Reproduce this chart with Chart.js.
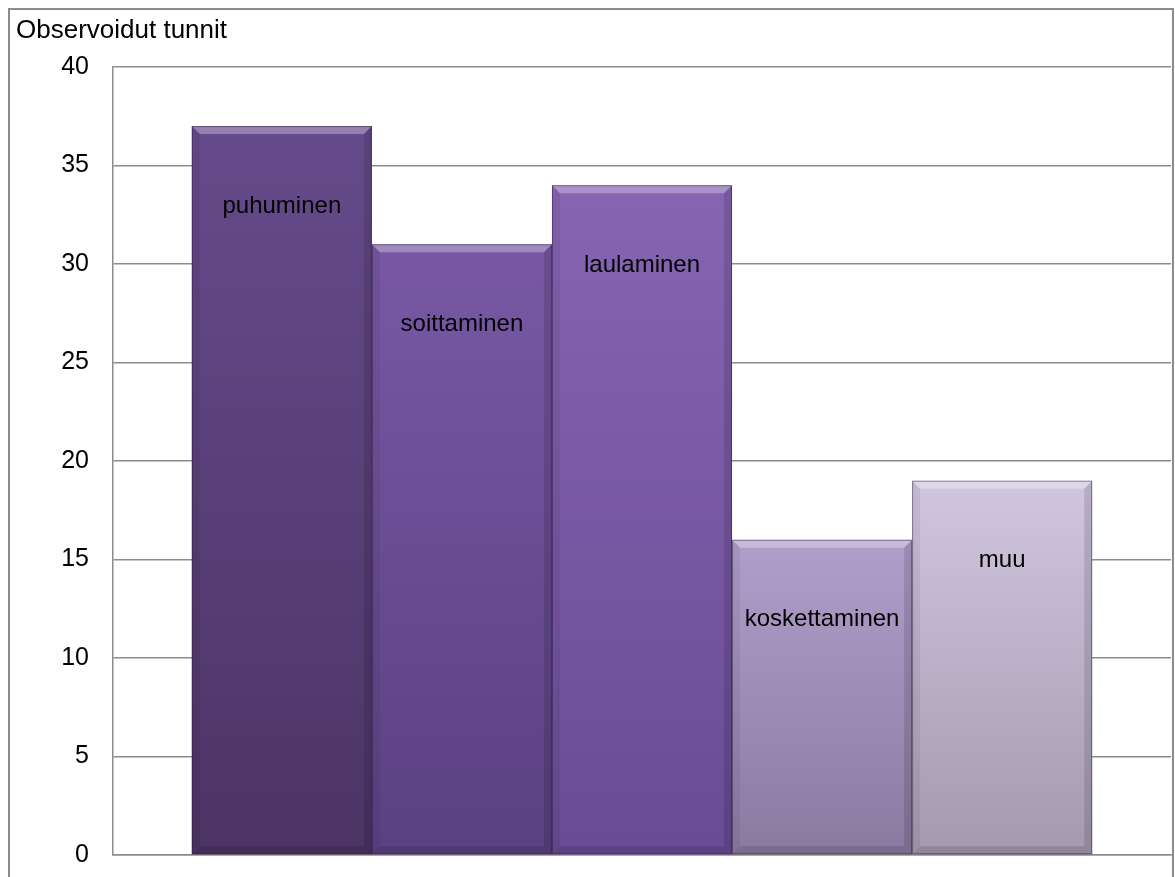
<!DOCTYPE html>
<html>
<head>
<meta charset="utf-8">
<script src="https://cdn.jsdelivr.net/npm/chart.js@4.4.1/dist/chart.umd.min.js"></script>
<style>
  body { margin: 0; background: #fff; }
  #box {
    position: absolute; left: 8px; top: 8px;
    width: 1162px; height: 880px;
    border: 2px solid #8c8c8c;
    overflow: hidden;
  }
  canvas { display: block; }
</style>
</head>
<body>
<div id="box"><canvas id="chart" width="1162" height="884"></canvas></div>
<script>
// Data
const axisTitle = 'Observoidut tunnit';
const categories = ['puhuminen', 'soittaminen', 'laulaminen', 'koskettaminen', 'muu'];
const hours = [37, 31, 34, 16, 19];
const yMin = 0, yMax = 40, yStep = 5;

// Värit (ylä / ala) gradientille
const topColors = ['#664b8c', '#7858a4', '#8665b3', '#b19ecb', '#d0c6df'];
const bottomColors = ['#4c3465', '#5a4181', '#694b94', '#8a7aa0', '#a39aae'];

const FONT = '"Liberation Sans", Arial, sans-serif';

// Gradientti yhdelle palkille
function barGradient(ctx, i) {
    const chart = ctx.chart;
    const y = chart.scales.y;
    if (!chart.chartArea || !y) return topColors[i];
    const top = y.getPixelForValue(hours[i]);
    const bottom = y.getPixelForValue(0);
    const g = chart.ctx.createLinearGradient(0, top, 0, bottom);
    g.addColorStop(0, topColors[i]);
    g.addColorStop(1, bottomColors[i]);
    return g;
}

// Viisto reuna + nimet palkkien sisään
const bevelPlugin = {
    id: 'bevel',
    afterDatasetsDraw(chart) {
        const ctx = chart.ctx;
        const b = 8;
        chart.data.datasets.forEach((ds, i) => {
            const bar = chart.getDatasetMeta(i).data[0];
            if (!bar) return;
            const l = bar.x - bar.width / 2, r = bar.x + bar.width / 2;
            const t = bar.y, bt = bar.base;
            ctx.save();
            // yläreuna
            ctx.fillStyle = 'rgba(255,255,255,0.3)';
            ctx.beginPath();
            ctx.moveTo(l, t); ctx.lineTo(r, t); ctx.lineTo(r - b, t + b); ctx.lineTo(l + b, t + b);
            ctx.closePath(); ctx.fill();
            // sivut
            ctx.fillStyle = 'rgba(0,0,0,0.06)';
            ctx.beginPath();
            ctx.moveTo(l, t); ctx.lineTo(l + b, t + b); ctx.lineTo(l + b, bt - b); ctx.lineTo(l, bt);
            ctx.closePath(); ctx.fill();
            ctx.fillStyle = 'rgba(0,0,0,0.12)';
            ctx.beginPath();
            ctx.moveTo(r, t); ctx.lineTo(r - b, t + b); ctx.lineTo(r - b, bt - b); ctx.lineTo(r, bt);
            ctx.closePath(); ctx.fill();
            // alareuna
            ctx.fillStyle = 'rgba(0,0,0,0.12)';
            ctx.beginPath();
            ctx.moveTo(l, bt); ctx.lineTo(l + b, bt - b); ctx.lineTo(r - b, bt - b); ctx.lineTo(r, bt);
            ctx.closePath(); ctx.fill();
            // ohut reunaviiva
            ctx.strokeStyle = 'rgba(40,20,60,0.45)';
            ctx.lineWidth = 1;
            ctx.strokeRect(l + 0.5, t + 0.5, bar.width - 1, bt - t - 1);
            // nimi
            ctx.fillStyle = '#000';
            ctx.font = '24px ' + FONT;
            ctx.textAlign = 'center';
            ctx.textBaseline = 'middle';
            ctx.fillText(ds.label, bar.x, t + 80);
            ctx.restore();
        });
        // akselin otsikko
        ctx.save();
        ctx.fillStyle = '#000';
        ctx.font = '26px ' + FONT;
        ctx.textAlign = 'left';
        ctx.textBaseline = 'middle';
        ctx.fillText(axisTitle, 6, 21);
        ctx.restore();
    }
};

new Chart(document.getElementById('chart'), {
    type: 'bar',
    data: {
        labels: [''],
        datasets: categories.map((name, i) => ({
            label: name,
            data: [hours[i]],
            backgroundColor: ctx => barGradient(ctx, i),
            borderWidth: 0,
            barPercentage: 1,
            categoryPercentage: 0.851
        }))
    },
    options: {
        responsive: false,
        animation: false,
        layout: { padding: { left: 0, top: 57, right: 1, bottom: 6 } },
        plugins: { legend: { display: false }, tooltip: { enabled: false } },
        scales: {
            x: {
                grid: { display: false },
                ticks: { display: false },
                border: { display: true, color: '#8c8c8c', width: 1.5 },
                afterFit: s => { s.height = 0; }
            },
            y: {
                min: yMin,
                max: yMax,
                ticks: {
                    stepSize: yStep,
                    padding: 24,
                    color: '#000',
                    font: { family: FONT, size: 25 }
                },
                grid: { color: '#8c8c8c', lineWidth: 1.5, drawTicks: false },
                border: { display: true, color: '#8c8c8c', width: 1.5 },
                afterFit: s => { s.width = 103; }
            }
        }
    },
    plugins: [bevelPlugin]
});
</script>
</body>
</html>
